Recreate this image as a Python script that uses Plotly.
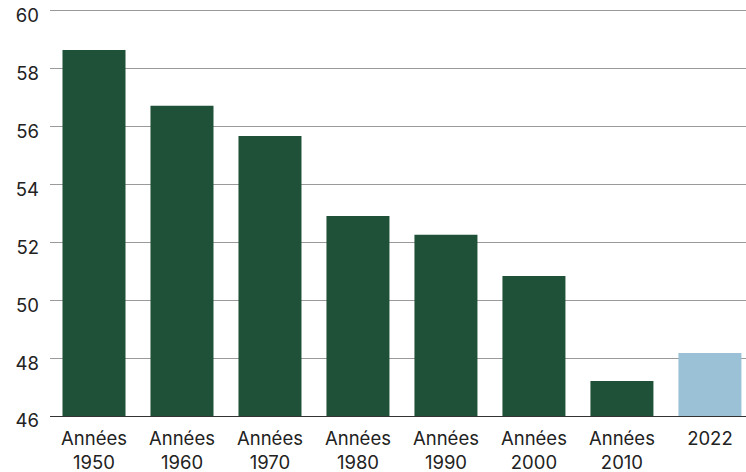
import plotly.graph_objects as go

categories = ["Années<br>1950", "Années<br>1960", "Années<br>1970", "Années<br>1980",
              "Années<br>1990", "Années<br>2000", "Années<br>2010", "2022"]
values = [58.65, 56.72, 55.68, 52.91, 52.26, 50.84, 47.21, 48.18]
colors = ["#1e5137"] * 7 + ["#9bc1d6"]
y_ticks = [46, 48, 50, 52, 54, 56, 58, 60]

fig = go.Figure(go.Bar(x=categories, y=[v - 46 for v in values], base=46,
                       marker=dict(color=colors, line=dict(width=0)), hoverinfo="skip"))

fig.update_layout(
    width=746, height=472,
    margin=dict(l=50, r=0, t=8, b=56),
    paper_bgcolor="white", plot_bgcolor="white",
    bargap=0.284,
    font=dict(family="Inter, Liberation Sans, sans-serif", size=18.5, color="#222"),
    showlegend=False,
)
fig.update_yaxes(range=[46, 60.1], tickvals=y_ticks, showgrid=True, gridcolor="#9a9a9a",
                 gridwidth=1, zeroline=False, showline=False, ticks="",
                 ticklabelstandoff=10, ticklabelshift=5)
fig.update_xaxes(range=[-0.5, 7.41], showline=True, linecolor="#333", linewidth=1,
                 ticks="", showgrid=False, ticklabelstandoff=6)
fig.write_html("out.html")
